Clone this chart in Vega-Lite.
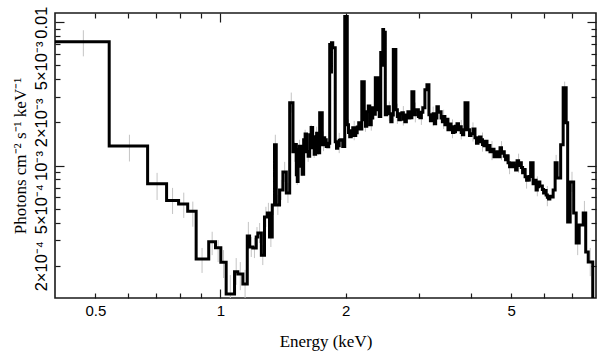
{
  "$schema": "https://vega.github.io/schema/vega-lite/v6.json",
  "width": 541,
  "height": 285,
  "autosize": {"type": "none"},
  "padding": {"left": 55, "top": 13, "right": 12, "bottom": 63},
  "background": "white",
  "config": {
    "view": {"stroke": "#1a1a1a", "strokeWidth": 1.6},
    "axis": {"domain": false, "grid": false, "labelFont": "Liberation Sans", "labelFontSize": 15, "labelColor": "black", "titleFont": "Liberation Serif", "titleFontSize": 17, "titleFontWeight": "normal", "titleColor": "black", "tickColor": "#1a1a1a", "tickWidth": 1.2, "labelFlush": false, "labelOverlap": false}
  },
  "datasets": {
    "spec": [
      {"e":0.39,"f":0.0073},{"e":0.540,"f":0.001367},{"e":0.668,"f":0.000745},{"e":0.742,"f":0.000569},{"e":0.793,"f":0.00054},{"e":0.834,"f":0.00048},{"e":0.874,"f":0.0002226},{"e":0.937,"f":0.000294},{"e":0.973,"f":0.000267},{"e":1.002,"f":0.000211},{"e":1.032,"f":0.0001267},{"e":1.081,"f":0.0001815},{"e":1.101,"f":0.0001749},{"e":1.132,"f":0.0001489},{"e":1.160,"f":0.000322},{"e":1.175,"f":0.00027},{"e":1.196,"f":0.000266},{"e":1.219,"f":0.000317},{"e":1.230,"f":0.000338},{"e":1.254,"f":0.000237},{"e":1.276,"f":0.000438},{"e":1.296,"f":0.000467},{"e":1.312,"f":0.000317},{"e":1.332,"f":0.000531},{"e":1.349,"f":0.001396},{"e":1.362,"f":0.000531},{"e":1.387,"f":0.000676},{"e":1.413,"f":0.000903},{"e":1.440,"f":0.000644},{"e":1.467,"f":0.002745},
      {"e":1.494,"f":0.001247},{"e":1.508,"f":0.0014},{"e":1.522,"f":0.000861},{"e":1.530,"f":0.000775},{"e":1.537,"f":0.001288},{"e":1.548,"f":0.001365},{"e":1.559,"f":0.000989},{"e":1.572,"f":0.00087},{"e":1.585,"f":0.001512},{"e":1.598,"f":0.00166},{"e":1.611,"f":0.001247},{"e":1.625,"f":0.00116},{"e":1.639,"f":0.00164},{"e":1.652,"f":0.00184},{"e":1.666,"f":0.00133},{"e":1.680,"f":0.0012},{"e":1.694,"f":0.001588},{"e":1.703,"f":0.00168},{"e":1.713,"f":0.001396},{"e":1.722,"f":0.00123},{"e":1.732,"f":0.002336},
      {"e":1.757,"f":0.001396},{"e":1.769,"f":0.00156},{"e":1.781,"f":0.001512},{"e":1.796,"f":0.00136},{"e":1.811,"f":0.001351},{"e":1.821,"f":0.00143},{"e":1.831,"f":0.00698},{"e":1.843,"f":0.0045},{"e":1.849,"f":0.0072},{"e":1.862,"f":0.00665},{"e":1.888,"f":0.001464},{"e":1.901,"f":0.00132},{"e":1.914,"f":0.001373},{"e":1.930,"f":0.0015},{"e":1.946,"f":0.001512},{"e":1.968,"f":0.00136},{"e":1.990,"f":0.01096},
      {"e":2.018,"f":0.001926},{"e":2.032,"f":0.0017},{"e":2.046,"f":0.001588},{"e":2.063,"f":0.00175},{"e":2.080,"f":0.001835},{"e":2.097,"f":0.00162},{"e":2.115,"f":0.001693},{"e":2.132,"f":0.00186},{"e":2.150,"f":0.001989},{"e":2.168,"f":0.0018},{"e":2.187,"f":0.00385},{"e":2.217,"f":0.002087},{"e":2.232,"f":0.00188},{"e":2.248,"f":0.002374},{"e":2.267,"f":0.0026},{"e":2.286,"f":0.001926},{"e":2.305,"f":0.00215},{"e":2.324,"f":0.002533},{"e":2.340,"f":0.00228},{"e":2.357,"f":0.004105},{"e":2.389,"f":0.002452},{"e":2.409,"f":0.0022},{"e":2.429,"f":0.00614},{"e":2.457,"f":0.00889},{"e":2.468,"f":0.005},{"e":2.475,"f":0.0085},
      {"e":2.491,"f":0.002262},{"e":2.508,"f":0.0025},{"e":2.526,"f":0.002574},{"e":2.547,"f":0.0023},{"e":2.568,"f":0.002021},{"e":2.586,"f":0.00225},{"e":2.604,"f":0.00644},{"e":2.641,"f":0.002452},{"e":2.663,"f":0.0022},{"e":2.685,"f":0.002087},{"e":2.707,"f":0.0023},{"e":2.730,"f":0.002336},{"e":2.753,"f":0.0021},{"e":2.776,"f":0.002021},{"e":2.799,"f":0.00225},{"e":2.823,"f":0.002374},{"e":2.838,"f":0.00215},{"e":2.854,"f":0.002156},{"e":2.886,"f":0.003275},{"e":2.918,"f":0.002262},{"e":2.942,"f":0.00245},{"e":2.967,"f":0.002452},{"e":2.992,"f":0.0022},{"e":3.017,"f":0.002156},{"e":3.042,"f":0.00235},{"e":3.067,"f":0.002533},{"e":3.102,"f":0.003383},{"e":3.137,"f":0.003666},
      {"e":3.172,"f":0.002262},{"e":3.198,"f":0.00205},{"e":3.225,"f":0.002087},{"e":3.247,"f":0.0023},{"e":3.269,"f":0.001957},{"e":3.292,"f":0.00215},{"e":3.315,"f":0.002574},{"e":3.342,"f":0.00235},{"e":3.370,"f":0.002374},{"e":3.393,"f":0.00215},{"e":3.417,"f":0.002021},{"e":3.441,"f":0.0022},{"e":3.465,"f":0.001926},{"e":3.494,"f":0.0021},{"e":3.524,"f":0.001777},{"e":3.554,"f":0.00195},{"e":3.584,"f":0.001865},{"e":3.614,"f":0.0017},{"e":3.644,"f":0.001721},{"e":3.674,"f":0.00188},{"e":3.705,"f":0.001957},{"e":3.736,"f":0.00178},{"e":3.767,"f":0.001865},{"e":3.793,"f":0.0017},{"e":3.819,"f":0.00164},{"e":3.846,"f":0.00178},{"e":3.873,"f":0.002745},
      {"e":3.937,"f":0.001777},{"e":3.970,"f":0.00162},{"e":4.004,"f":0.001665},{"e":4.048,"f":0.0018},{"e":4.093,"f":0.001562},{"e":4.127,"f":0.00143},{"e":4.162,"f":0.001464},{"e":4.197,"f":0.00158},{"e":4.232,"f":0.001512},{"e":4.267,"f":0.0014},{"e":4.302,"f":0.001373},{"e":4.338,"f":0.00148},{"e":4.375,"f":0.001288},{"e":4.411,"f":0.00138},{"e":4.448,"f":0.001247},{"e":4.498,"f":0.0013},{"e":4.548,"f":0.00115},{"e":4.586,"f":0.00122},{"e":4.625,"f":0.001247},{"e":4.663,"f":0.00115},{"e":4.702,"f":0.00133},{"e":4.741,"f":0.00122},{"e":4.781,"f":0.001247},{"e":4.814,"f":0.00116},{"e":4.848,"f":0.001096},{"e":4.882,"f":0.00117},{"e":4.916,"f":0.001044},{"e":4.957,"f":0.00098},{"e":4.998,"f":0.000979},{"e":5.040,"f":0.00104},
      {"e":5.082,"f":0.000995},{"e":5.125,"f":0.00093},{"e":5.168,"f":0.001079},{"e":5.211,"f":0.001},{"e":5.254,"f":0.001044},{"e":5.291,"f":0.00097},{"e":5.328,"f":0.000889},{"e":5.365,"f":0.00094},{"e":5.402,"f":0.000834},{"e":5.447,"f":0.00079},{"e":5.493,"f":0.000794},{"e":5.531,"f":0.00084},{"e":5.570,"f":0.001044},{"e":5.647,"f":0.000745},{"e":5.694,"f":0.00079},{"e":5.741,"f":0.000676},{"e":5.781,"f":0.00071},{"e":5.822,"f":0.000769},{"e":5.862,"f":0.00072},{"e":5.903,"f":0.000721},{"e":5.944,"f":0.00068},{"e":5.985,"f":0.000644},{"e":6.027,"f":0.00067},{"e":6.069,"f":0.000624},{"e":6.111,"f":0.0006},{"e":6.153,"f":0.000585},{"e":6.196,"f":0.00061},{"e":6.239,"f":0.000604},
      {"e":6.310,"f":0.000676},{"e":6.380,"f":0.001044},{"e":6.450,"f":0.00082},{"e":6.578,"f":0.001396},{"e":6.670,"f":0.003495},{"e":6.782,"f":0.001989},{"e":6.838,"f":0.000404},{"e":6.934,"f":0.000769},{"e":7.070,"f":0.000467},{"e":7.169,"f":0.000288},{"e":7.290,"f":0.000385},{"e":7.453,"f":0.000467},{"e":7.557,"f":0.000249},{"e":7.663,"f":0.000212},{"e":7.857,"f":0.00008},{"e":8.3,"f":0.00008}
    ],
    "err": [
      {"e":0.468,"lo":0.00578,"hi":0.00879},{"e":0.604,"lo":0.001067,"hi":0.00164},{"e":0.704,"lo":0.000575,"hi":0.000889},{"e":0.767,"lo":0.000459,"hi":0.000698},{"e":0.816,"lo":0.000431,"hi":0.000647},{"e":0.858,"lo":0.000374,"hi":0.00056},{"e":0.903,"lo":0.000178,"hi":0.000266},{"e":0.955,"lo":0.000237,"hi":0.000345},{"e":0.987,"lo":0.000212,"hi":0.000302},{"e":1.017,"lo":0.000164,"hi":0.000257},{"e":1.056,"lo":0.0001,"hi":0.000172},{"e":1.091,"lo":0.000147,"hi":0.000226},{"e":1.116,"lo":0.000135,"hi":0.000212},{"e":1.146,"lo":0.000115,"hi":0.000187},{"e":1.167,"lo":0.000257,"hi":0.000404},
      {"e":1.186,"lo":0.00023,"hi":0.000317},{"e":1.207,"lo":0.000226,"hi":0.000313},{"e":1.224,"lo":0.00027,"hi":0.000372},{"e":1.242,"lo":0.000288,"hi":0.000397},{"e":1.264,"lo":0.000202,"hi":0.000278},{"e":1.286,"lo":0.000373,"hi":0.000515},{"e":1.304,"lo":0.000397,"hi":0.000549},{"e":1.322,"lo":0.00027,"hi":0.000372},{"e":1.341,"lo":0.000452,"hi":0.000624},{"e":1.355,"lo":0.00119,"hi":0.00164},{"e":1.374,"lo":0.000452,"hi":0.000624},{"e":1.400,"lo":0.000575,"hi":0.000794},{"e":1.427,"lo":0.000769,"hi":0.001061},{"e":1.453,"lo":0.000548,"hi":0.000757},{"e":1.480,"lo":0.00234,"hi":0.00323},{"e":1.508,"lo":0.001061,"hi":0.001465},{"e":1.530,"lo":0.000733,"hi":0.001012},{"e":1.549,"lo":0.001096,"hi":0.001513},{"e":1.572,"lo":0.000842,"hi":0.001162},{"e":1.598,"lo":0.001287,"hi":0.001777},{"e":1.625,"lo":0.001061,"hi":0.001465},{"e":1.652,"lo":0.001396,"hi":0.001927},{"e":1.680,"lo":0.001132,"hi":0.001563},{"e":1.703,"lo":0.001351,"hi":0.001866},{"e":1.722,"lo":0.00119,"hi":0.00164},
      {"e":1.769,"lo":0.00126,"hi":0.00173},{"e":1.930,"lo":0.00122,"hi":0.00169},{"e":2.032,"lo":0.00155,"hi":0.0021},{"e":2.097,"lo":0.0015,"hi":0.00205},{"e":2.232,"lo":0.00172,"hi":0.00235},{"e":2.305,"lo":0.00175,"hi":0.0024},{"e":2.547,"lo":0.00205,"hi":0.0028},{"e":2.663,"lo":0.00195,"hi":0.0027},{"e":2.753,"lo":0.0019,"hi":0.0026},{"e":2.942,"lo":0.002,"hi":0.00275},{"e":3.042,"lo":0.00192,"hi":0.00262},{"e":3.247,"lo":0.00188,"hi":0.00258},{"e":3.441,"lo":0.0018,"hi":0.00245},{"e":3.614,"lo":0.00155,"hi":0.0021},{"e":3.793,"lo":0.00152,"hi":0.00208},{"e":4.048,"lo":0.00147,"hi":0.002},{"e":4.267,"lo":0.00125,"hi":0.0017},{"e":4.498,"lo":0.00109,"hi":0.00148},{"e":4.741,"lo":0.00109,"hi":0.00148},{"e":4.957,"lo":0.00087,"hi":0.00118},{"e":5.211,"lo":0.00089,"hi":0.00121},{"e":5.447,"lo":0.00069,"hi":0.00095},{"e":5.781,"lo":0.00061,"hi":0.00084},{"e":6.111,"lo":0.00052,"hi":0.00072},
      {"e":6.415,"lo":0.000918,"hi":0.001187},{"e":6.725,"lo":0.00317,"hi":0.00385},{"e":7.004,"lo":0.000654,"hi":0.000904},{"e":7.228,"lo":0.000237,"hi":0.000349},{"e":7.503,"lo":0.000385,"hi":0.000566},{"e":7.749,"lo":0.000169,"hi":0.000266}
    ]
  },
  "layer": [
    {
      "data": {"name": "err"},
      "mark": {"type": "rule", "color": "#c4c4c4", "strokeWidth": 1, "clip": true},
      "encoding": {
        "x": {"field": "e", "type": "quantitative", "scale": {"type": "log", "domain": [0.4, 8], "nice": false},
          "axis": {"orient": "top", "values": [0.5,0.6,0.7,0.8,0.9,2,3,4,5,6,7], "labels": false, "title": null, "tickSize": 5, "offset": -5}},
        "y": {"field": "lo", "type": "quantitative", "scale": {"type": "log", "domain": [0.000119, 0.0116], "nice": false},
          "axis": {"orient": "right", "values": [0.0002,0.0003,0.0004,0.0005,0.0006,0.0007,0.0008,0.0009,0.002,0.003,0.004,0.005,0.006,0.007,0.008,0.009], "labels": false, "title": null, "tickSize": 5, "offset": -5}},
        "y2": {"field": "hi"}
      }
    },
    {
      "data": {"name": "err"},
      "mark": {"type": "rule", "opacity": 0},
      "encoding": {
        "x": {"field": "e", "type": "quantitative", "scale": {"type": "log", "domain": [0.4, 8], "nice": false},
          "axis": {"orient": "top", "values": [1], "labels": false, "title": null, "tickSize": 9, "offset": -9}},
        "y": {"field": "lo", "type": "quantitative", "scale": {"type": "log", "domain": [0.000119, 0.0116], "nice": false},
          "axis": {"orient": "right", "values": [0.001,0.01], "labels": false, "title": null, "tickSize": 9, "offset": -9}},
        "y2": {"field": "hi"}
      }
    },
    {
      "data": {"name": "err"},
      "mark": {"type": "rule", "opacity": 0},
      "encoding": {
        "x": {"field": "e", "type": "quantitative", "scale": {"type": "log", "domain": [0.4, 8], "nice": false},
          "axis": {"orient": "bottom", "values": [0.5,0.6,0.7,0.8,0.9,2,3,4,5,6,7], "labels": false, "title": null, "tickSize": 5, "offset": -5}},
        "y": {"field": "lo", "type": "quantitative", "scale": {"type": "log", "domain": [0.000119, 0.0116], "nice": false},
          "axis": {"orient": "left", "values": [0.0002,0.0003,0.0004,0.0005,0.0006,0.0007,0.0008,0.0009,0.002,0.003,0.004,0.005,0.006,0.007,0.008,0.009], "labels": false, "title": null, "tickSize": 5, "offset": -5}},
        "y2": {"field": "hi"}
      }
    },
    {
      "data": {"name": "err"},
      "mark": {"type": "rule", "opacity": 0},
      "encoding": {
        "x": {"field": "e", "type": "quantitative", "scale": {"type": "log", "domain": [0.4, 8], "nice": false},
          "axis": {"orient": "bottom", "values": [1], "labels": false, "title": null, "tickSize": 9, "offset": -9}},
        "y": {"field": "lo", "type": "quantitative", "scale": {"type": "log", "domain": [0.000119, 0.0116], "nice": false},
          "axis": {"orient": "left", "values": [0.001,0.01], "labels": false, "title": null, "tickSize": 9, "offset": -9}},
        "y2": {"field": "hi"}
      }
    },
    {
      "data": {"name": "spec"},
      "mark": {"type": "line", "interpolate": "step-after", "color": "black", "strokeWidth": 3, "clip": true},
      "encoding": {
        "x": {"field": "e", "type": "quantitative", "scale": {"type": "log", "domain": [0.4, 8], "nice": false},
          "axis": {"orient": "bottom", "values": [0.5,1,2,5], "ticks": false, "labelPadding": 5,
            "labelExpr": "datum.value == 0.5 ? '0.5' : datum.value == 1 ? '1' : datum.value == 2 ? '2' : '5'",
            "title": "Energy (keV)", "titlePadding": 15}},
        "y": {"field": "f", "type": "quantitative", "scale": {"type": "log", "domain": [0.000119, 0.0116], "nice": false},
          "axis": {"orient": "left", "values": [0.0002,0.0005,0.001,0.002,0.005,0.01], "ticks": false, "labelPadding": 6, "labelAngle": -90, "labelFontSize": 16.5,
            "labelExpr": "round(datum.value*1e5) == 20 ? '2×10⁻⁴' : round(datum.value*1e5) == 50 ? '5×10⁻⁴' : round(datum.value*1e5) == 100 ? '10⁻³' : round(datum.value*1e5) == 200 ? '2×10⁻³' : round(datum.value*1e5) == 500 ? '5×10⁻³' : '0.01'",
            "title": "Photons cm⁻² s⁻¹ keV⁻¹", "titlePadding": 4}}
      }
    }
  ],
  "resolve": {"axis": {"x": "independent", "y": "independent"}}
}
